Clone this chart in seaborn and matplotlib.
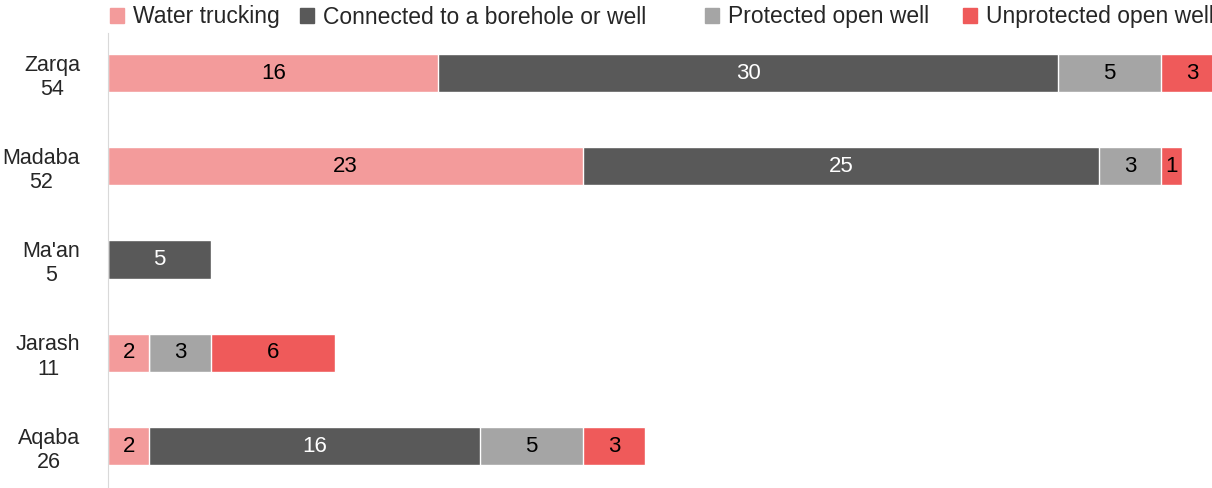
import numpy as np
import pandas as pd
import seaborn as sns
import matplotlib.pyplot as plt
from matplotlib.patches import Patch

# data
governorates = ["Zarqa", "Madaba", "Ma'an", "Jarash", "Aqaba"]
totals = [54, 52, 5, 11, 26]
water_trucking = [16, 23, 0, 2, 2]
borehole = [30, 25, 5, 0, 16]
protected_well = [5, 3, 0, 3, 5]
unprotected_well = [3, 1, 0, 6, 3]

series_names = ["Water trucking", "Connected to a borehole or well",
                "Protected open well", "Unprotected open well"]
colors = ["#F39B9B", "#595959", "#A5A5A5", "#EF5A5A"]
label_colors = ["black", "white", "black", "black"]

sns.set_style("white")
plt.rcParams['font.family'] = ['Liberation Sans', 'DejaVu Sans']

df = pd.DataFrame({
    "gov": [f"{g}\n{t}" for g, t in zip(governorates, totals)],
    series_names[0]: water_trucking,
    series_names[1]: borehole,
    series_names[2]: protected_well,
    series_names[3]: unprotected_well,
})
cum = df[series_names].cumsum(axis=1)

fig = plt.figure(figsize=(12.12, 4.88), dpi=100)
ax = fig.add_axes([108 / 1212, 0, 1 - 108 / 1212, 455 / 488])

# stacked bars: draw cumulative totals from the last segment back to the first
for name, col in reversed(list(zip(series_names, colors))):
    sns.barplot(x=cum[name], y=df["gov"], color=col, orient="h",
                width=0.41, ax=ax, saturation=1)

for name, lc in zip(series_names, label_colors):
    for i, v in enumerate(df[name]):
        if v > 0:
            mid = cum[name].iloc[i] - v / 2
            ax.text(mid, i, str(v), ha="center", va="center",
                    color=lc, fontsize=16)

ax.set_xlim(0, 53.46)
ax.set_ylim(4.45, -0.43)
ax.set_xlabel("")
ax.set_ylabel("")
ax.set_xticks([])
for s in ["top", "right", "bottom"]:
    ax.spines[s].set_visible(False)
ax.spines["left"].set_color("#D9D9D9")
ax.tick_params(axis="y", length=0, pad=20, labelsize=15.5)
for lab in ax.get_yticklabels():
    lab.set_multialignment("center")

# legend entries placed one by one, as in the original
legend_x = [110, 300, 705, 963]
for name, col, lx in zip(series_names, colors, legend_x):
    fig.legend([Patch(color=col)], [name], loc="center left",
               bbox_to_anchor=(lx / 1212, 1 - 17 / 488), frameon=False,
               fontsize=16.5, handlelength=0.6, handleheight=0.6,
               handletextpad=0.4, borderaxespad=0, borderpad=0)

fig.savefig("out.png", dpi=100)
